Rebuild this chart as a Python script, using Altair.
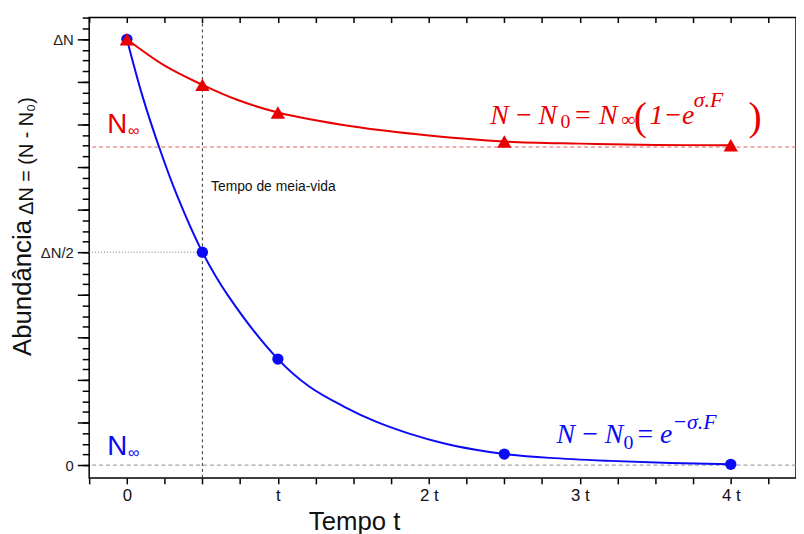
import altair as alt
import pandas as pd

# ---------------- data ----------------
# x in units of t (half-life multiples axis), y in units of ΔN
blue_curve_x = [0, 0.1, 0.21, 0.33, 0.5, 0.67, 1.0, 1.21, 1.44, 1.65, 1.87, 2.09, 2.31, 2.5, 2.8, 3.2, 3.6, 4.0]
blue_curve_y = [1.0, 0.87, 0.75, 0.635, 0.5, 0.398, 0.249, 0.184, 0.137, 0.102, 0.074, 0.052, 0.036, 0.026, 0.017, 0.010, 0.005, 0.002]
red_curve_x = [0, 0.25, 0.5, 0.73, 1.0, 1.5, 2.0, 2.5, 3.0, 3.5, 4.0]
red_curve_y = [1.0, 0.938, 0.893, 0.858, 0.828, 0.795, 0.774, 0.760, 0.755, 0.752, 0.751]

blue_points_x = [0, 0.5, 1, 2.5, 4]
blue_points_y = [1.0, 0.5, 0.249, 0.026, 0.002]
red_points_x = [0, 0.5, 1, 2.5, 4]
red_points_y = [1.0, 0.893, 0.828, 0.760, 0.751]

half_life_x = [0.5]
half_level_y = [0.5]
n_inf_red_y = [0.747]
n_inf_blue_y = [0.0]

x_label_values = [0, 1, 2, 3, 4]
x_label_texts = ["0", "t", "2 t", "3 t", "4 t"]
y_label_values = [0, 0.5, 1]
y_label_texts = ["0", "ΔN/2", "ΔN"]

x_min, x_max = -0.25, 4.432
y_min, y_max = -0.030, 1.051

# ---------------- styles ----------------
BLUE = "#0a0af5"
RED = "#e80000"
SANS = "Liberation Sans"
NARROW = "Liberation Sans Narrow, Liberation Sans"
SERIF = "Liberation Serif"

xs = alt.Scale(domain=[x_min, x_max], nice=False, zero=False)
ys = alt.Scale(domain=[y_min, y_max], nice=False, zero=False)

x_ticks = [-0.25 + 0.25 * i for i in range(19)]
y_minor = [round(0.025 * i, 3) for i in range(43)]
y_major = [round(0.1 * i, 2) for i in range(11)]

x_expr = " : ".join(f"datum.value == {v} ? '{t}'" for v, t in zip(x_label_values, x_label_texts)) + " : ''"
y_expr = " : ".join(f"abs(datum.value - {v}) < 0.001 ? '{t}'" for v, t in zip(y_label_values, y_label_texts)) + " : ''"

common_axis = dict(domain=False, grid=False, title=None, tickColor="black", tickWidth=1.5)
x_axis_bottom = alt.Axis(orient="bottom", values=x_ticks, labelExpr=x_expr, tickSize=6,
                         labelFont=NARROW, labelFontSize=17, labelColor="#111", labelPadding=4, **common_axis)
x_axis_top = alt.Axis(orient="top", values=x_ticks, labels=False, tickSize=5, offset=-5, **common_axis)
y_axis_minor = alt.Axis(orient="left", values=y_minor, labelExpr=y_expr, tickSize=7, labelPadding=9,
                        labelFont=SANS, labelFontSize=15, labelColor="#222", **common_axis)
y_axis_major = alt.Axis(orient="left", values=y_major, labels=False, tickSize=12, **common_axis)


def X(axis=None):
    return alt.X("x:Q", scale=xs, axis=axis)


def Y(axis=None):
    return alt.Y("y:Q", scale=ys, axis=axis)


blue_curve = pd.DataFrame({"x": blue_curve_x, "y": blue_curve_y})
red_curve = pd.DataFrame({"x": red_curve_x, "y": red_curve_y})
blue_pts = pd.DataFrame({"x": blue_points_x, "y": blue_points_y})
red_pts = pd.DataFrame({"x": red_points_x, "y": red_points_y})

# reference lines
zero_rule = alt.Chart(pd.DataFrame({"y": n_inf_blue_y})).mark_rule(
    color="#8a8a9a", strokeDash=[4, 3], strokeWidth=1).encode(y=Y())
red_rule = alt.Chart(pd.DataFrame({"y": n_inf_red_y})).mark_rule(
    color="#e06060", strokeDash=[4, 3], strokeWidth=1).encode(y=Y())
vert_rule = alt.Chart(pd.DataFrame({"x": half_life_x})).mark_rule(
    color="#333333", strokeDash=[3, 3], strokeWidth=1).encode(x=X())
half_rule = alt.Chart(pd.DataFrame({"x": [x_min], "x2": half_life_x, "y": half_level_y})).mark_rule(
    color="#777777", strokeDash=[1, 2], strokeWidth=1).encode(x=X(), x2="x2:Q", y=Y())

blue_line = alt.Chart(blue_curve).mark_line(color=BLUE, strokeWidth=2, interpolate="catmull-rom").encode(
    x=X(x_axis_bottom), y=Y(y_axis_minor))
red_line = alt.Chart(red_curve).mark_line(color=RED, strokeWidth=2, interpolate="catmull-rom").encode(
    x=X(x_axis_top), y=Y(y_axis_major))
blue_dots = alt.Chart(blue_pts).mark_point(shape="circle", filled=True, opacity=1, size=130, color=BLUE).encode(
    x=X(), y=Y())
red_tris = alt.Chart(red_pts).mark_point(shape="triangle-up", filled=True, opacity=1, size=210, color=RED).encode(
    x=X(), y=Y())


def txt(xv, yv, tv, **props):
    df = pd.DataFrame({"x": xv, "y": yv, "t": tv})
    base = dict(align="left", baseline="alphabetic")
    base.update(props)
    return alt.Chart(df).mark_text(**base).encode(x=X(), y=Y(), text="t:N")


texts = [
    # N_inf labels
    txt([-0.131], [0.779], ["N"], font=SANS, fontSize=28, color=RED),
    txt([0.007], [0.774], ["∞"], font=SANS, fontSize=16, color=RED),
    txt([-0.131], [0.023], ["N"], font=SANS, fontSize=28, color=BLUE),
    txt([0.007], [0.016], ["∞"], font=SANS, fontSize=16, color=BLUE),
    # half-life annotation
    txt([0.557], [0.644], ["Tempo de meia-vida"], font=SANS, fontSize=14, color="#111"),
    # red formula
    txt([2.407, 2.957, 3.462], [0.802, 0.802, 0.802], ["N\u2009−\u2009N", "= N", "1−e"],
        font=SERIF, fontStyle="italic", fontSize=28, color=RED),
    txt([2.872], [0.791], ["0"], font=SERIF, fontSize=20, color=RED),
    txt([3.272], [0.797], ["∞"], font=SERIF, fontSize=20, color=RED),
    txt([3.357, 4.118], [0.788, 0.788], ["(", ")"], font=SERIF, fontSize=40, color=RED),
    txt([3.755], [0.840], ["σ.F"], font=SERIF, fontStyle="italic", fontSize=22, color=RED),
    # blue formula
    txt([2.846, 3.370], [0.051, 0.051], ["N\u2009−\u2009N", "=\u2009e"],
        font=SERIF, fontStyle="italic", fontSize=28, color=BLUE),
    txt([3.290], [0.037], ["0"], font=SERIF, fontSize=20, color=BLUE),
    txt([3.613], [0.086], ["−σ.F"], font=SERIF, fontStyle="italic", fontSize=22, color=BLUE),
    # axis titles
    txt([-0.69], [0.416], ["Abundância"], font=NARROW, fontSize=26, color="#111",
        angle=270, align="center", baseline="middle"),
    txt([-0.662], [0.726], ["ΔN = (N - N₀)"], font=SANS, fontSize=20, color="#111",
        angle=270, align="center", baseline="middle"),
    txt([1.508], [-0.153], ["Tempo  t"], font=NARROW, fontSize=26, color="#111", align="center"),
]

chart = alt.layer(
    zero_rule, red_rule, vert_rule, half_rule,
    blue_line, blue_dots, red_line, red_tris,
    *texts,
).resolve_axis(x="independent", y="independent").properties(
    width=714, height=465,
    autosize=alt.AutoSizeParams(type="none"),
    padding={"left": 82, "top": 7, "right": 0, "bottom": 54},
    background="white",
).configure_view(stroke="black", strokeWidth=1.5)

chart.save("out.html", embed_options={"renderer": "svg", "actions": False})
